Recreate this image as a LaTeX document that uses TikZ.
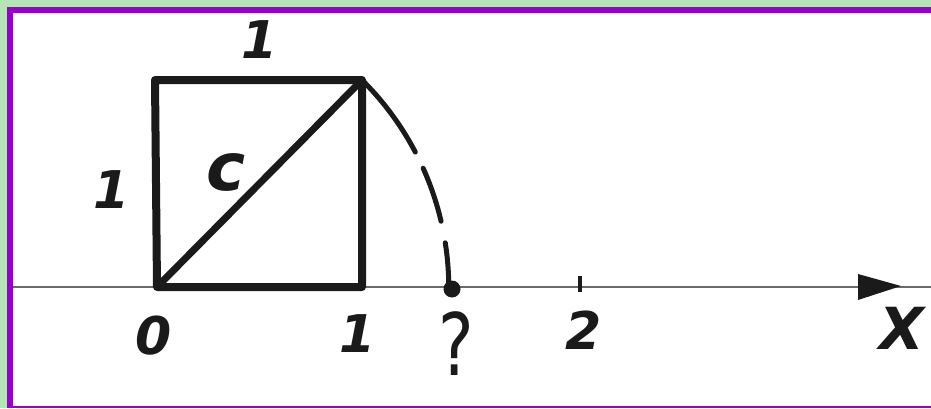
\documentclass[tikz,border=0pt]{standalone}
\usepackage{fontspec}
\newfontfamily\hand{DejaVu Sans}
\usetikzlibrary{arrows.meta}
\definecolor{bggreen}{HTML}{B5E4B5}
\definecolor{frame}{HTML}{9A00CC}
\definecolor{ink}{HTML}{1A1A1A}
\definecolor{axisink}{HTML}{6A6A6A}
\tikzset{
  lbl/.style={font=\hand\bfseries\itshape\fontsize{52}{56}\selectfont, text=ink, inner sep=0pt},
  boxline/.style={line width=8pt, draw=ink, line join=round},
  axisline/.style={line width=2.6pt, draw=axisink},
  arcline/.style={line width=5pt, draw=ink, dash pattern=on 90pt off 18pt on 56pt off 22pt on 50pt, line cap=round},
}
\begin{document}
\begin{tikzpicture}[x=1pt,y=1pt]
\useasboundingbox (0,0) rectangle (931,408);
\fill[bggreen] (0,0) rectangle (931,408);
\fill[frame] (7,0) rectangle (931,401);
\fill[white] (13,2) rectangle (931,395);
% axis
\coordinate (axs) at (13,121);
\coordinate (axe) at (931,121);
\draw[axisline] (axs) -- (axe);
\fill[ink] (858,134) -- (901,122) -- (858,108) -- cycle;
% square
\coordinate (O) at (157,121);
\coordinate (A) at (362,121);
\coordinate (B) at (362,328);
\coordinate (D) at (155,328);
\draw[boxline] (O) -- (A) -- (B) -- (D) -- cycle;
\draw[line width=7pt, draw=ink] (O) -- (B);
% arc
\draw[arcline] (B) arc[start angle=45.3, end angle=0, radius=292.5];
\node[circle, fill=ink, minimum size=17pt, inner sep=0pt] (q) at (452,119) {};
% tick 2
\draw[line width=4pt, draw=ink] (580,116) -- (580,132);
% labels
\node[lbl] (t1) at (260,368) {1};
\node[lbl] (l1) at (112,218) {1};
\node[lbl, font=\hand\bfseries\itshape\fontsize{66}{70}\selectfont] (c) at (226,236) {c};
\node[lbl] (n0) at (154,72) {0};
\node[lbl] (n1) at (358,74) {1};
\node[lbl, xscale=0.78, font=\hand\fontsize{86}{90}\selectfont] (nq) at (456,64) {?};
\node[lbl] (n2) at (584,78) {2};
\node[lbl, font=\hand\bfseries\itshape\fontsize{58}{62}\selectfont] (nx) at (902,80) {X};
\end{tikzpicture}
\end{document}
